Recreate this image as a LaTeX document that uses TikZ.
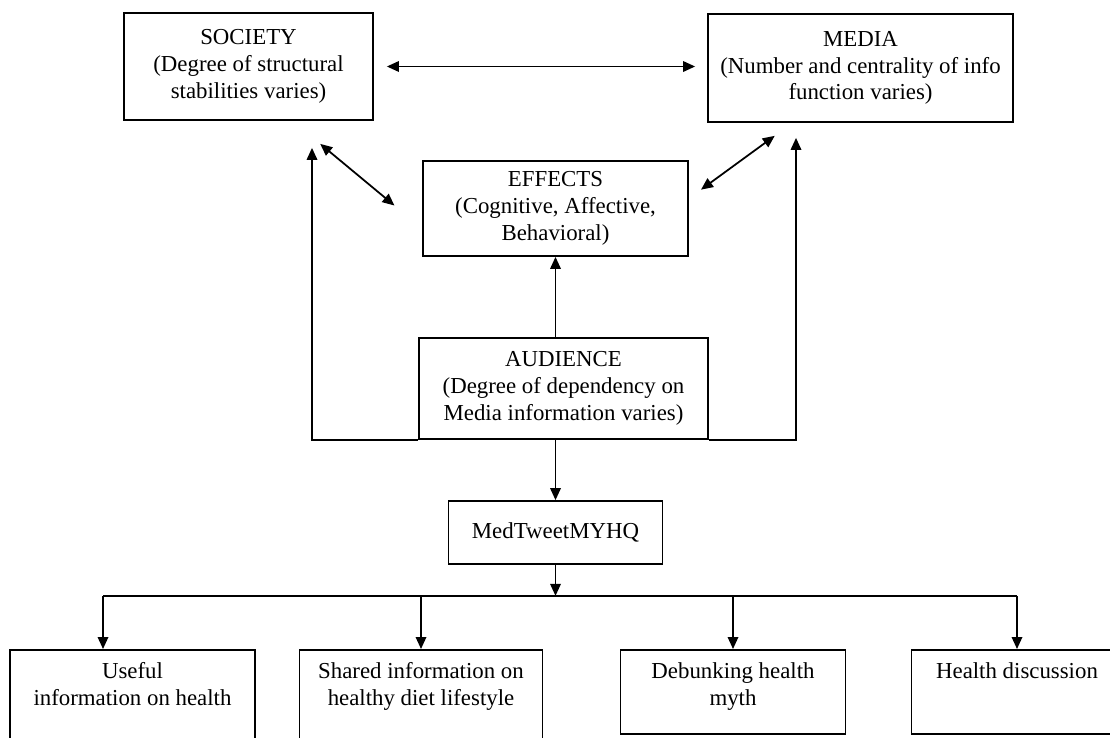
\documentclass[tikz,border=0pt]{standalone}
\usepackage{fontspec}
\setmainfont{Liberation Serif}
\usetikzlibrary{calc, positioning}
\usetikzlibrary{arrows.meta}
\tikzset{
  ln/.style={line width=1pt,black},
  boxnode/.style={ln,draw,align=center,inner sep=2pt,font=\fontsize{13pt}{15.2pt}\selectfont},
  boxtext/.style={anchor=north,align=center,yshift=-1.5mm,font=\fontsize{13pt}{15.2pt}\selectfont},
  arr/.style={ln,-{Triangle[length=2.4mm,width=2.1mm]}},
  dbl/.style={ln,{Triangle[length=2.4mm,width=2.1mm]}-{Triangle[length=2.4mm,width=2.1mm]}}
}
\begin{document}
\begin{tikzpicture}[x=0.2mm,y=-0.2mm]
\useasboundingbox (0,0) rectangle (1110,737);
\clip (0,0) rectangle (1110,737);

\node[boxnode,minimum width=4.98cm,minimum height=2.14cm] (S) at (248.5,66.5) {SOCIETY\\(Degree of structural\\stabilities varies)};
\node[boxnode,minimum width=6.1cm,minimum height=2.16cm] (M) at (860.5,68) {MEDIA\\(Number and centrality of info\\function varies)};
\node[boxnode,minimum width=5.3cm,minimum height=1.9cm] (E) at (555.5,208.5) {EFFECTS\\(Cognitive, Affective,\\Behavioral)};
\node[boxnode,minimum width=5.78cm,minimum height=2.02cm] (A) at (563.5,388.5) {AUDIENCE\\(Degree of dependency on\\Media information varies)};
\node[boxnode,minimum width=4.28cm,minimum height=1.26cm] (T) at (555.5,532.5) {MedTweetMYHQ};

\node[boxnode,anchor=north,minimum width=4.9cm,minimum height=2.3cm,label={[boxtext]north:Useful\\information on health}] (B1) at (132.5,649) {};
\node[boxnode,anchor=north,minimum width=4.86cm,minimum height=2.3cm,label={[boxtext]north:Shared information on\\healthy diet lifestyle}] (B2) at (421,649) {};
\node[boxnode,anchor=north,minimum width=4.5cm,minimum height=1.68cm,label={[boxtext]north:Debunking health\\myth}] (B3) at (733,649) {};
\node[boxnode,anchor=north,minimum width=4.22cm,minimum height=1.68cm,label={[boxtext]north:Health discussion}] (B4) at (1017,649) {};

\draw[dbl,shorten <=0.26cm,shorten >=0.24cm] (S.east) -- (S.east -| M.west);
\draw[dbl,shorten <=0.72cm,shorten >=0.72cm] ($(S.south)+(44,0)$) -- ($(E.west)+(0,20)$);
\draw[dbl,shorten <=0.3cm,shorten >=0.44cm] ($(E.east)+(0,-10)$) -- ($(M.south)+(-68,0)$);

\draw[arr] (A.north -| E.south) -- (E.south);
\draw[arr,shorten >=0.54cm] (A.south west) -| ($(S.south)+(63.5,0)$);
\draw[arr,shorten >=0.3cm] (A.south east) -| ($(M.south)+(-64.5,0)$);
\draw[arr] (A.south -| T.north) -- (T.north);

\coordinate (bus) at ($(T.south)+(0,31)$);
\coordinate (U) at ($(B1.north)+(-29.5,0)$);
\draw[arr] (T.south) -- (bus);
\draw[ln] (U |- bus) -- (B4.north |- bus);
\draw[arr] (U |- bus) -- (U);
\foreach \b in {B2,B3,B4}
  \draw[arr] (\b.north |- bus) -- (\b.north);
\end{tikzpicture}
\end{document}
